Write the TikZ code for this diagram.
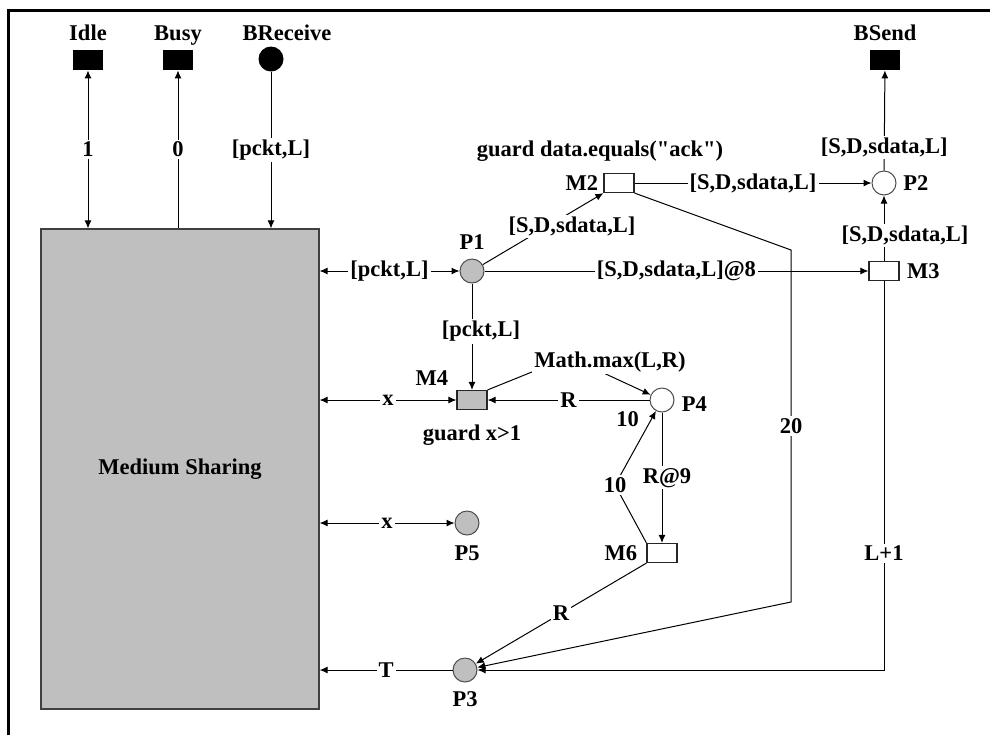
\documentclass[tikz,border=0pt]{standalone}
\usepackage{fontspec}
\setmainfont{Liberation Serif}
\usetikzlibrary{positioning, arrows.meta}

\begin{document}
\begin{tikzpicture}[x=0.5pt, y=-0.5pt, node distance=3pt]
    \tikzset{
      every node/.style={font=\fontsize{11.25}{13}\selectfont\bfseries},
      place/.style={circle, draw=black!70, line width=0.5pt, minimum size=12pt, inner sep=0pt},
      gplace/.style={place, fill=black!25},
      trans/.style={rectangle, draw=black!85, line width=0.6pt, minimum width=15pt, minimum height=9.5pt, inner sep=0pt},
      gtrans/.style={trans, fill=black!25},
      port/.style={rectangle, fill=black, minimum width=15pt, minimum height=10pt, inner sep=0pt},
      lbl/.style={inner sep=1pt, text height=7.6pt, text depth=0pt},
      ins/.style={fill=white, inner sep=1pt},
      pnarc/.style={-{Latex[length=4pt,width=3.5pt]}, line width=0.5pt},
      pnbiarc/.style={{Latex[length=4pt,width=3.5pt]}-{Latex[length=4pt,width=3.5pt]}, line width=0.5pt},
      msbox/.style={rectangle, draw=black!75, fill=black!25, line width=0.6pt,
        minimum width=139pt, minimum height=240pt, inner sep=0pt}
    }
    \useasboundingbox (0,0) rectangle (990,735);
    \draw[line width=1.5pt] (8,735) -- (8,10) -- (990,10);

    % Ports
    \node[port] (idle) at (88,60) {};
    \node[port] (busy) at (178,60) {};
    \node[circle, fill=black, minimum size=12.5pt, inner sep=0pt] (brcv) at (271,59) {};
    \node[port] (bsend) at (885,60) {};
    \node[lbl, above=3.3pt of idle] (idlel) {Idle};
    \node[lbl, above=3.3pt of busy] (busyl) {Busy};
    \node[lbl, above=1.5pt of brcv, xshift=8pt] (brcvl) {BReceive};
    \node[lbl, above=3.3pt of bsend] (bsendl) {BSend};

    % Medium
    \node[msbox] (ms) at (180,469) {Medium Sharing};

    % Places and transitions
    \node[gplace] (P1) at (472,271) {};
    \node[trans] (M2) at (619,183) {};
    \node[place] (P2) at (884,183) {};
    \node[trans] (M3) at (884,271) {};
    \node[gtrans] (M4) at (472,400) {};
    \node[place] (P4) at (662,400) {};
    \node[gplace] (P5) at (467,523) {};
    \node[trans] (M6) at (662,553) {};
    \node[gplace] (P3) at (465,670) {};

    \node[lbl, above=3.3pt of P1] (P1l) {P1};
    \node[lbl, left=1.5pt of M2] (M2l) {M2};
    \node[lbl] (M2g) at (600,149) {guard data.equals(\textquotedbl ack\textquotedbl)};
    \node[lbl, right=2.2pt of P2] (P2l) {P2};
    \node[lbl, right=2.5pt of M3] (M3l) {M3};
    \node[lbl, above left=0.8pt and 3pt of M4] (M4l) {M4};
    \node[lbl, below=6.3pt of M4] (M4g) {guard x>1};
    \node[lbl, right=2.5pt of P4, yshift=-2pt] (P4l) {P4};
    \node[lbl, below left=0pt and 6pt of P4] (P4m) {10};
    \node[lbl, below=3.8pt of P5] (P5l) {P5};
    \node[lbl, left=3.5pt of M6] (M6l) {M6};
    \node[lbl, below=3.3pt of P3] (P3l) {P3};

    % Bends
    \coordinate (k1) at (791,250);
    \coordinate (k2) at (791,602);
    \coordinate (k3) at (569,357);
    \coordinate (k4) at (615,485);

    % Arcs to the ports
    \draw[pnbiarc] (ms.north -| idle) -- node[ins] {1} (idle);
    \draw[pnarc] (ms.north -| busy) -- node[ins] {0} (busy);
    \draw[pnarc] (brcv) -- node[ins] {[pckt,L]} (brcv |- ms.north);
    \draw[pnarc] (P2) -- node[ins, pos=0.23] {[S,D,sdata,L]} (bsend);

    % Arcs of the net
    \draw[pnbiarc] (ms.east |- P1) -- node[ins] {[pckt,L]} (P1);
    \draw[pnarc] (P1) -- node[ins, pos=0.62, xshift=7.2pt, yshift=-3pt] {[S,D,sdata,L]} (M2.south west);
    \draw[pnarc] (P1) -- node[ins] {[S,D,sdata,L]@8} (M3);
    \draw[pnarc] (P1) -- node[ins, pos=0.45, xshift=4.5pt] {[pckt,L]} (M4);
    \draw[pnarc] (M2) -- node[ins] {[S,D,sdata,L]} (P2);
    \draw[pnarc] (M3) -- node[ins, xshift=10.5pt, yshift=-3.5pt] {[S,D,sdata,L]} (P2);
    \draw[pnarc] (M2.south east) -- (k1) -- node[ins] {20} (k2) -- (P3);
    \draw[pnarc] (M3) |- node[ins, pos=0.35] {L+1} (P3);
    \draw[pnbiarc] (ms.east |- M4) -- node[ins] {x} (M4);
    \draw[pnarc] (P4) -- node[ins] {R} (M4);
    \draw[pnarc] (M4.north east) -- (k3) node[ins, xshift=20.5pt, yshift=-2.5pt] {Math.max(L,R)} -- (P4);
    \draw[pnarc] (M6.north west) -- (k4) node[ins] {10} -- (P4);
    \draw[pnarc] (P4) -- node[ins, xshift=2.5pt] {R@9} (M6);
    \draw[pnarc] (M6.south west) -- node[ins] {R} (P3);
    \draw[pnbiarc] (ms.east |- P5) -- node[ins] {x} (P5);
    \draw[pnarc] (P3) -- node[ins] {T} (ms.east |- P3);
  \end{tikzpicture}
\end{document}
